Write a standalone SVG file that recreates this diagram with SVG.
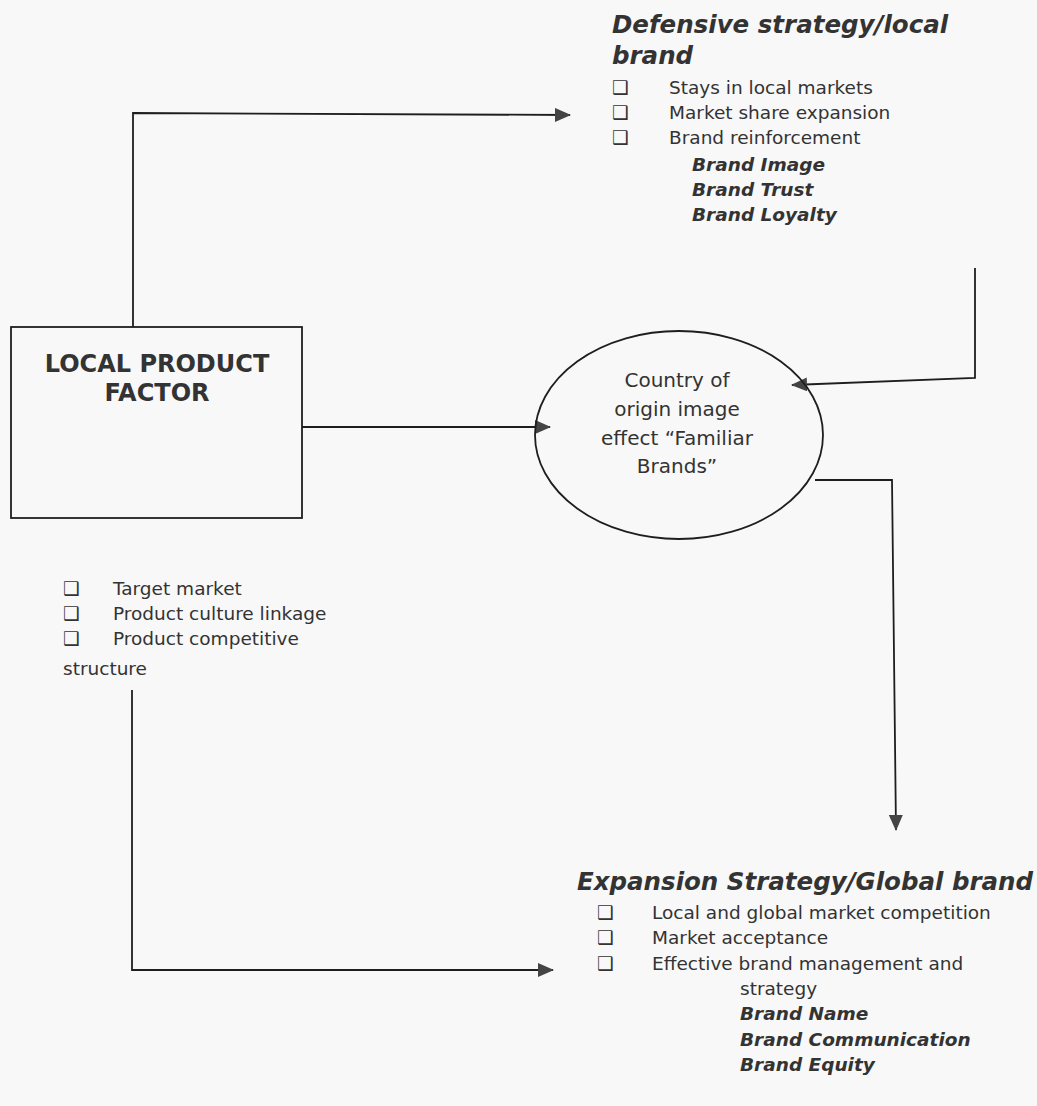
<svg xmlns="http://www.w3.org/2000/svg" width="1037" height="1106" viewBox="0 0 1037 1106">
<style>
text{font-family:"DejaVu Sans","Verdana",sans-serif;fill:#333;}
.t{font-size:24.5px;font-weight:bold;font-style:italic;}
.b{font-size:18.5px;}
.bi{font-size:18.5px;font-weight:bold;font-style:italic;}
.h{font-size:24px;font-weight:bold;}
.e{font-size:20px;}
.ln{fill:none;stroke:#1e1e1e;stroke-width:1.8;}
</style>
<defs>
<marker id="ar" markerWidth="16" markerHeight="14" refX="15" refY="7" orient="auto" markerUnits="userSpaceOnUse">
<path d="M0,0 L16,7 L0,14 z" fill="#444"/>
</marker>
</defs>
<rect width="1037" height="1106" fill="#f8f8f8"/>
<g id="connectors">
<path class="ln" d="M133,327 V113 L570,115" marker-end="url(#ar)"/>
<path class="ln" d="M302,427 H550" marker-end="url(#ar)"/>
<path class="ln" d="M975,268 V378 L792,385" marker-end="url(#ar)"/>
<path class="ln" d="M815,480 H892 L896,830" marker-end="url(#ar)"/>
<path class="ln" d="M132,690 V970 H553" marker-end="url(#ar)"/>
</g>
<g id="defensive">
<text class="t" x="612" y="33">Defensive strategy/local</text>
<text class="t" x="612" y="64">brand</text>
<text class="b" x="612" y="94">❑</text><text class="b" x="669" y="94">Stays in local markets</text>
<text class="b" x="612" y="119">❑</text><text class="b" x="669" y="119">Market share expansion</text>
<text class="b" x="612" y="144">❑</text><text class="b" x="669" y="144">Brand reinforcement</text>
<text class="bi" x="692" y="171">Brand Image</text>
<text class="bi" x="692" y="196">Brand Trust</text>
<text class="bi" x="692" y="221">Brand Loyalty</text>
</g>
<g id="local-product-factor">
<rect x="11" y="327" width="291" height="191" fill="none" stroke="#1e1e1e" stroke-width="1.8"/>
<text class="h" x="157" y="372" text-anchor="middle">LOCAL PRODUCT</text>
<text class="h" x="157" y="401" text-anchor="middle">FACTOR</text>
</g>
<g id="local-list">
<text class="b" x="63" y="595">❑</text><text class="b" x="113" y="595">Target market</text>
<text class="b" x="63" y="620">❑</text><text class="b" x="113" y="620">Product culture linkage</text>
<text class="b" x="63" y="645">❑</text><text class="b" x="113" y="645">Product competitive</text>
<text class="b" x="63" y="675">structure</text>
</g>
<g id="country-of-origin">
<ellipse cx="679" cy="435" rx="144" ry="104" fill="none" stroke="#1e1e1e" stroke-width="1.8"/>
<text class="e" x="677" y="387" text-anchor="middle">Country of</text>
<text class="e" x="677" y="416" text-anchor="middle">origin image</text>
<text class="e" x="677" y="445" text-anchor="middle">effect “Familiar</text>
<text class="e" x="677" y="473" text-anchor="middle">Brands”</text>
</g>
<g id="expansion">
<text class="t" x="577" y="890">Expansion Strategy/Global brand</text>
<text class="b" x="597" y="919">❑</text><text class="b" x="652" y="919">Local and global market competition</text>
<text class="b" x="597" y="944">❑</text><text class="b" x="652" y="944">Market acceptance</text>
<text class="b" x="597" y="970">❑</text><text class="b" x="652" y="970">Effective brand management and</text>
<text class="b" x="740" y="995">strategy</text>
<text class="bi" x="740" y="1020">Brand Name</text>
<text class="bi" x="740" y="1046">Brand Communication</text>
<text class="bi" x="740" y="1071">Brand Equity</text>
</g>
</svg>
